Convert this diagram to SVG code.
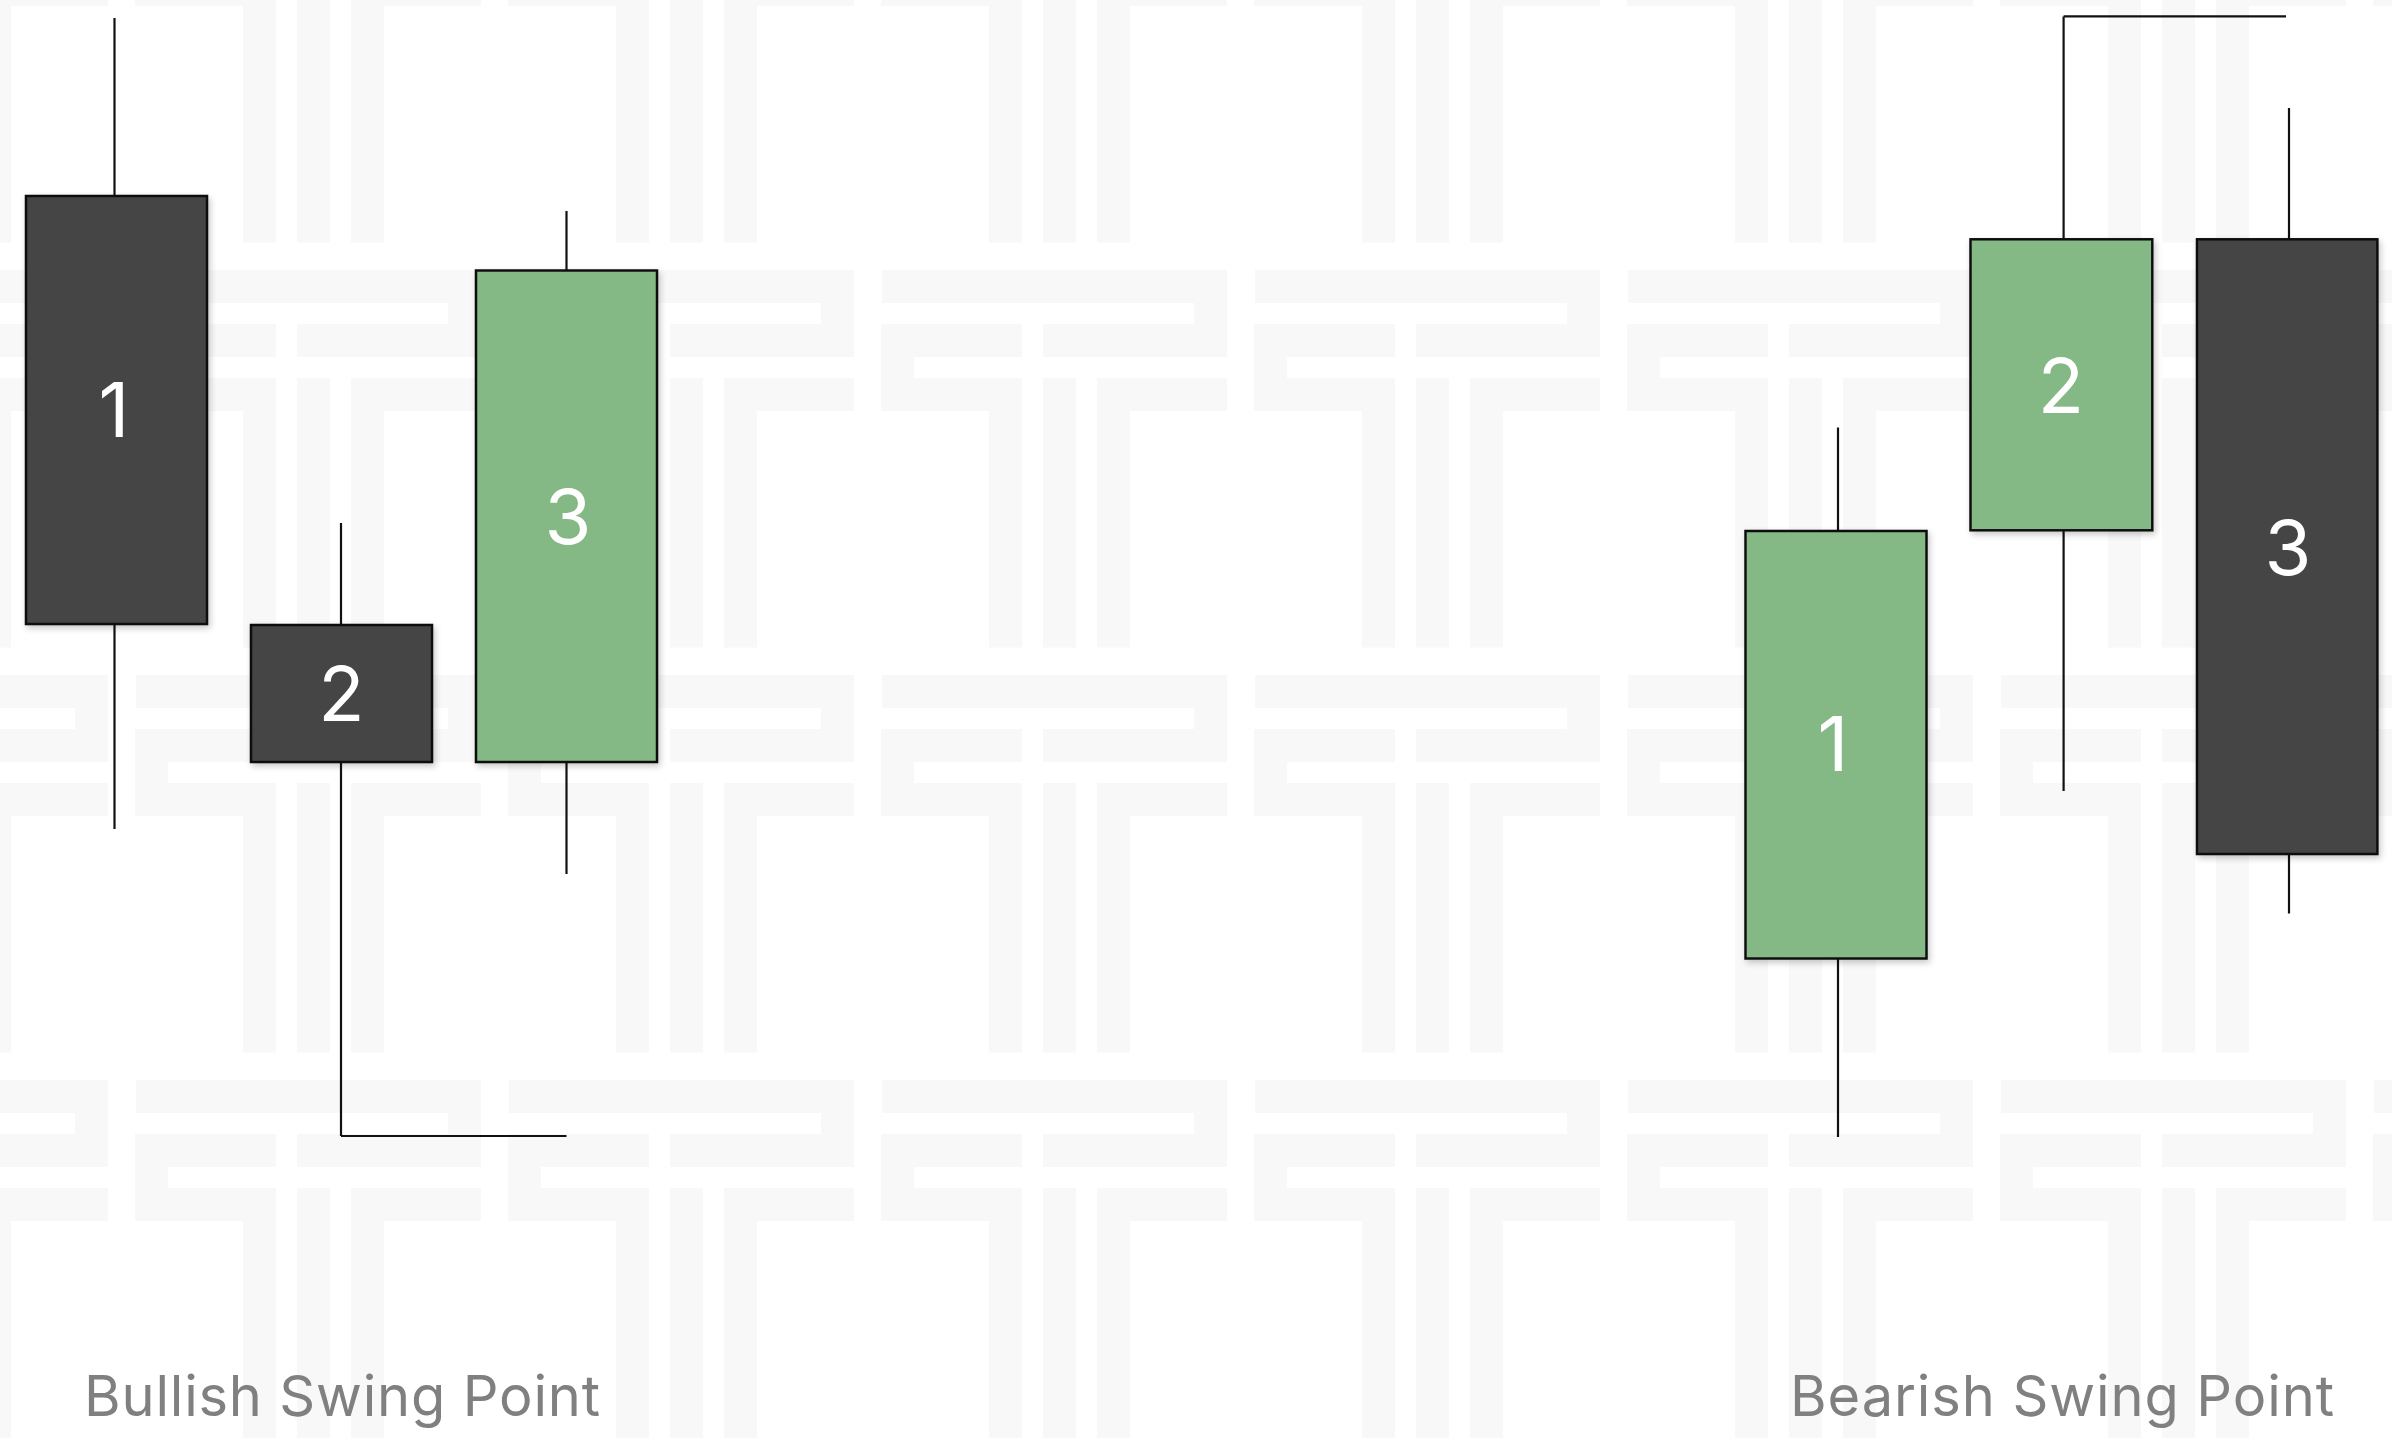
<svg xmlns="http://www.w3.org/2000/svg" width="2392" height="1438" viewBox="0 0 2392 1438">
  <defs>
    <pattern id="bg" x="881" y="270" width="373" height="405" patternUnits="userSpaceOnUse">
      <path d="M1,0 H346 V87 H162 V54 H313 V33 H1 Z" fill="#f8f8f8"/>
      <path d="M0,54 H141 V87 H33 V108 H141 V377.5 H108 V141 H0 Z" fill="#f8f8f8"/>
      <rect x="162" y="108" width="33" height="269.5" fill="#f8f8f8"/>
      <path d="M216,108 H346 V141 H249 V377.5 H216 Z" fill="#f8f8f8"/>
    </pattern>
    <filter id="sh" x="-10%" y="-10%" width="130%" height="130%">
      <feDropShadow dx="2" dy="3" stdDeviation="3" flood-color="#000" flood-opacity="0.22"/>
    </filter>
  </defs>
  <style>
    .wick { stroke: #111; stroke-width: 2.2; fill: none; }
    .dark { fill: #454545; stroke: #111; stroke-width: 2.5; filter: url(#sh); }
    .green { fill: #84b885; stroke: #111; stroke-width: 2.5; filter: url(#sh); }
    .num { font-family: Inter, "Liberation Sans", sans-serif; font-size: 76px; fill: #ffffff; text-anchor: middle; }
    .lbl { font-family: Inter, "Liberation Sans", sans-serif; font-size: 56px; fill: #808080; }
    .conn { stroke: #111; stroke-width: 2.2; fill: none; }
  </style>
  <rect x="0" y="0" width="2392" height="1438" fill="#ffffff"/>
  <rect x="0" y="0" width="2392" height="1438" fill="url(#bg)"/>

  <g id="connectors">
    <path class="conn" d="M341,1136 H566.5"/>
    <path class="conn" d="M2063.6,16.4 H2286"/>
  </g>

  <g id="bull-candle-1">
    <line class="wick" x1="114.5" y1="18" x2="114.5" y2="829"/>
    <rect class="dark" x="26" y="196" width="181" height="428"/>
    <text class="num" x="114" y="436.5">1</text>
  </g>
  <g id="bull-candle-2">
    <line class="wick" x1="341" y1="523" x2="341" y2="1136"/>
    <rect class="dark" x="251" y="625" width="181" height="137"/>
    <text class="num" x="341.5" y="721">2</text>
  </g>
  <g id="bull-candle-3">
    <line class="wick" x1="566.5" y1="211" x2="566.5" y2="874"/>
    <rect class="green" x="476" y="270.5" width="181" height="491.5"/>
    <text class="num" x="568" y="543.6">3</text>
  </g>

  <g id="bear-candle-1">
    <line class="wick" x1="1838" y1="427.5" x2="1838" y2="1137"/>
    <rect class="green" x="1745.5" y="531" width="181" height="427.5"/>
    <text class="num" x="1833" y="771">1</text>
  </g>
  <g id="bear-candle-2">
    <line class="wick" x1="2063.6" y1="16.4" x2="2063.6" y2="791"/>
    <rect class="green" x="1970.5" y="239.3" width="181.8" height="291"/>
    <text class="num" x="2061" y="412.5">2</text>
  </g>
  <g id="bear-candle-3">
    <line class="wick" x1="2289" y1="108" x2="2289" y2="913.4"/>
    <rect class="dark" x="2197" y="239.3" width="180.4" height="614.7"/>
    <text class="num" x="2288" y="574.5">3</text>
  </g>

  <g id="label-bullish">
    <text class="lbl" x="84" y="1416" textLength="516">Bullish Swing Point</text>
  </g>
  <g id="label-bearish">
    <text class="lbl" x="1790" y="1416" textLength="544">Bearish Swing Point</text>
  </g>
</svg>
